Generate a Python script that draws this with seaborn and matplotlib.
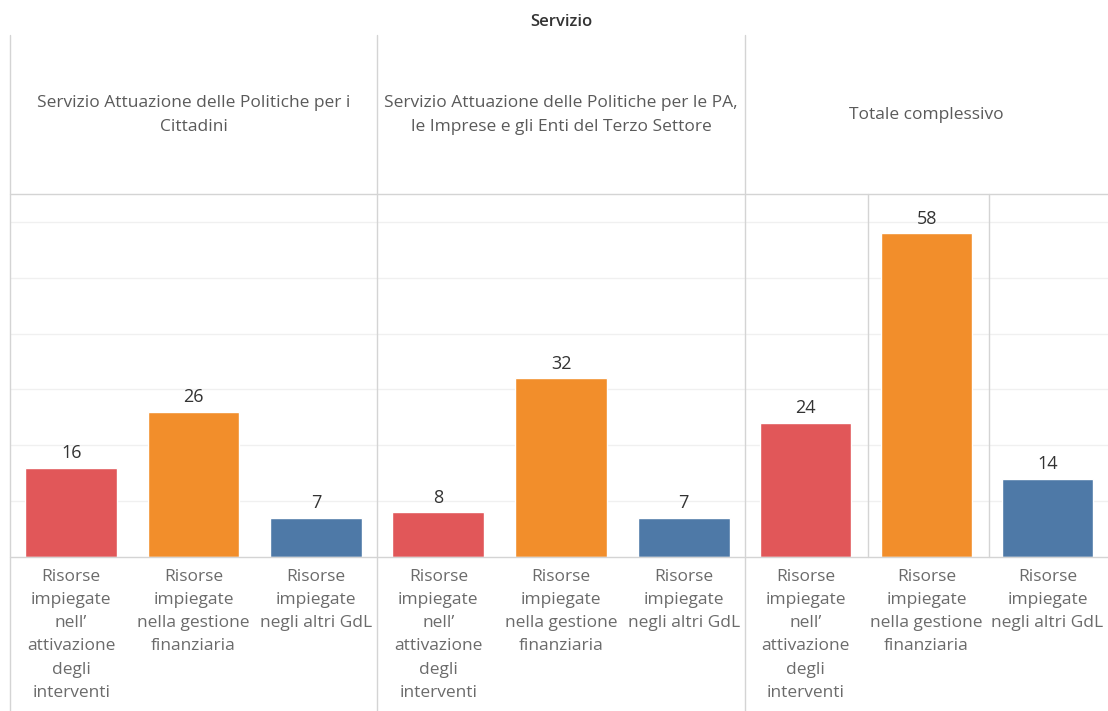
import matplotlib
matplotlib.use("Agg")
import matplotlib.pyplot as plt
import seaborn as sns
import pandas as pd
from matplotlib.lines import Line2D

# --- data ---
panels = [
    "Servizio Attuazione delle Politiche per i\nCittadini",
    "Servizio Attuazione delle Politiche per le PA,\nle Imprese e gli Enti del Terzo Settore",
    "Totale complessivo",
]
categories = [
    "Risorse\nimpiegate\nnell\u2019\nattivazione\ndegli\ninterventi",
    "Risorse\nimpiegate\nnella gestione\nfinanziaria",
    "Risorse\nimpiegate\nnegli altri GdL",
]
values_cittadini = [16, 26, 7]
values_pa = [8, 32, 7]
values_totale = [24, 58, 14]
colors = ["#E15759", "#F28E2B", "#4E79A7"]

all_values = [values_cittadini, values_pa, values_totale]

sns.set_style("white")
plt.rcParams["font.family"] = ["Open Sans", "DejaVu Sans"]

W, H = 1108, 711
fig = plt.figure(figsize=(W / 100, H / 100), dpi=100)

def fx(px):
    return px / W

def fy(py):
    return 1 - py / H

def hline(y, x0, x1, c="#d4d4d4", lw=1.0):
    fig.add_artist(Line2D([fx(x0), fx(x1)], [fy(y), fy(y)], color=c, lw=lw,
                          transform=fig.transFigure))

def vline(x, y0, y1, c="#d4d4d4", lw=1.0):
    fig.add_artist(Line2D([fx(x), fx(x)], [fy(y0), fy(y1)], color=c, lw=lw,
                          transform=fig.transFigure))

edges = [10, 377, 745, 1108]
top_px, bottom_px = 194, 557

for i, (name, vals) in enumerate(zip(panels, all_values)):
    x0, x1 = edges[i], edges[i + 1]
    ax = fig.add_axes([fx(x0), fy(bottom_px), fx(x1 - x0), (bottom_px - top_px) / H])
    df = pd.DataFrame({"cat": categories, "val": vals})
    sns.barplot(data=df, x="cat", y="val", hue="cat", palette=colors,
                width=0.75, legend=False, ax=ax, saturation=1)
    ax.set_ylim(0, 65)
    ax.set_xlim(-0.5, 2.5)
    ax.set_yticks(range(10, 61, 10))
    ax.yaxis.grid(True, color="#f0f0f0", lw=1)
    ax.set_axisbelow(True)
    ax.tick_params(axis="y", left=False, labelleft=False)
    ax.tick_params(axis="x", bottom=False, pad=5)
    ax.set_xticks(range(3))
    ax.set_xticklabels(categories, fontsize=12.5, color="#6b6b6b",
                       linespacing=1.6, va="top")
    ax.set_xlabel("")
    ax.set_ylabel("")
    for s in ax.spines.values():
        s.set_visible(False)
    for c in ax.containers:
        ax.bar_label(c, padding=4, fontsize=13, color="#333333")
    # panel header
    fig.text(fx((x0 + x1) / 2), fy(115), name, ha="center", va="center",
             fontsize=12.5, color="#5a5a5a", linespacing=1.7)

# separators
for x in edges[:3]:
    vline(x, 35, H)
hline(top_px, 10, W)
hline(bottom_px, 10, W)
vline(868, top_px, bottom_px)
vline(989, top_px, bottom_px)

fig.text(fx(561), fy(22), "Servizio", ha="center", va="center",
         fontsize=12, color="#333333", fontweight="semibold")

fig.savefig("out.png", dpi=100)
